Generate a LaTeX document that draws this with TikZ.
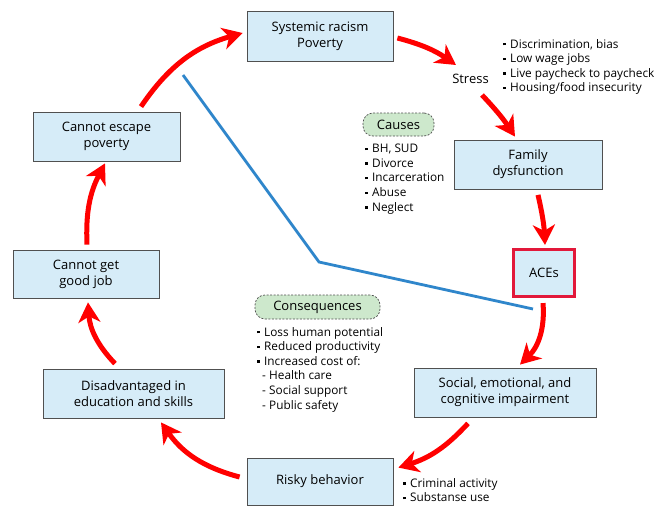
\documentclass[tikz,border=0pt]{standalone}
\usepackage{fontspec}
\setmainfont{Open Sans}
\usetikzlibrary{arrows.meta,calc}
\definecolor{boxfill}{RGB}{214,236,248}
\definecolor{boxline}{RGB}{80,80,80}
\definecolor{pillfill}{RGB}{205,232,204}
\definecolor{acered}{RGB}{226,24,58}
\definecolor{bluel}{RGB}{47,134,203}
\newcommand{\bu}{\makebox[7pt][l]{\raisebox{0.22em}{\rule{2.4pt}{2.4pt}}}}
\newcommand{\da}{\hspace{5pt}\makebox[7pt][l]{-}}
\begin{document}
\begin{tikzpicture}[x=1pt,y=1pt,
 box/.style={draw=boxline, line width=0.8pt, fill=boxfill, align=center, inner sep=0pt, font=\fontsize{13}{16}\selectfont},
 acebox/.style={box, draw=acered, line width=3.2pt},
 pill/.style={draw=boxline, dash pattern=on 2pt off 1.5pt, line width=0.7pt, fill=pillfill, rounded corners=10pt, inner sep=0pt, font=\fontsize{13}{16}\selectfont},
 lst/.style={anchor=base west, align=left, inner sep=0pt, font=\fontsize{11.8}{14.6}\selectfont},
 redarrow/.style={draw=red, line width=5pt, -{Stealth[length=20pt,width=22pt,inset=6pt]}},
 blueline/.style={draw=bluel, line width=2.8pt}]
\path[fill=white, use as bounding box] (0,0) rectangle (657,-506);

% blue line
\coordinate (b1) at (183,-75);
\coordinate (b2) at (319,-262);
\coordinate (b3) at (533,-309);
\draw[blueline] (b1) -- (b2) -- (b3);

% boxes
\node[box, minimum width=146pt, minimum height=50pt] (sys) at (320,-36) {Systemic racism\\Poverty};
\node[box, minimum width=148pt, minimum height=49pt] (fam) at (528,-164.5) {Family\\dysfunction};
\node[acebox, minimum width=61pt, minimum height=47pt] (aces) at (544,-273) {ACEs};
\node[box, minimum width=182pt, minimum height=49pt] (soc) at (505,-392.5) {Social, emotional, and\\cognitive impairment};
\node[box, minimum width=146pt, minimum height=47pt] (risky) at (320,-481.5) {Risky behavior};
\node[box, minimum width=181pt, minimum height=49pt] (dis) at (133.5,-393.5) {Disadvantaged in\\education and skills};
\node[box, minimum width=146pt, minimum height=48pt] (job) at (86,-274) {Cannot get\\good job};
\node[box, minimum width=147pt, minimum height=49pt] (cep) at (106.5,-136.5) {Cannot escape\\poverty};

% stress label
\node[font=\fontsize{13}{16}\selectfont, inner sep=0pt, anchor=base] (stress) at (470.5,-83.3) {Stress};

% pills
\node[pill, minimum width=71pt, minimum height=23pt] (causes) at (398.5,-124.5) {Causes};
\node[pill, minimum width=125pt, minimum height=24pt] (cons) at (317.5,-307) {Consequences};

% lists (anchored at the baseline of their last line)
\node[lst] (stl) at (503,-91.8) {\bu Discrimination, bias\\\bu Low wage jobs\\\bu Live paycheck to paycheck\\\bu Housing/food insecurity};
\node[lst] (cal) at (365,-211.1) {\bu BH, SUD\\\bu Divorce\\\bu Incarceration\\\bu Abuse\\\bu Neglect};
\node[lst] (col) at (257,-409) {\bu Loss human potential\\\bu Reduced productivity\\\bu Increased cost of:\\\da Health care\\\da Social support\\\da Public safety};
\node[lst] (ril) at (403,-501.9) {\bu Criminal activity\\\bu Substanse use};

% red arrows
\draw[redarrow] ([shift={(34.5,5)}]cep.north) to[bend left=20] ([shift={(-4,3)}]sys.west);
\draw[redarrow] ([shift={(4,-2)}]sys.east) to[bend left=10] ([shift={(-14.5,18.3)}]stress.base);
\draw[redarrow] ([shift={(11.5,-11.7)}]stress.base) to[bend left=5] ([shift={(-13,3)}]fam.north);
\draw[redarrow] ([shift={(10,-5.5)}]fam.south) to[bend left=5] ([shift={(1,3)}]aces.north);
\draw[redarrow] ([shift={(-1,-5)}]aces.south) to[bend left=25] ([shift={(15,3)}]soc.north);
\draw[redarrow] ([shift={(-37,-6)}]soc.south) to[bend left=15] ([shift={(5,-10)}]risky.north east);
\draw[redarrow] ([shift={(-7,4.5)}]risky.west) to[bend left=20] ([shift={(27.5,-4)}]dis.south);
\draw[redarrow] ([shift={(-18.5,5)}]dis.north) to[bend left=20] ([shift={(2,-4)}]job.south);
\draw[redarrow] ([shift={(1,5)}]job.north) to[bend left=15] ([shift={(-1.5,-2)}]cep.south);
\end{tikzpicture}
\end{document}
